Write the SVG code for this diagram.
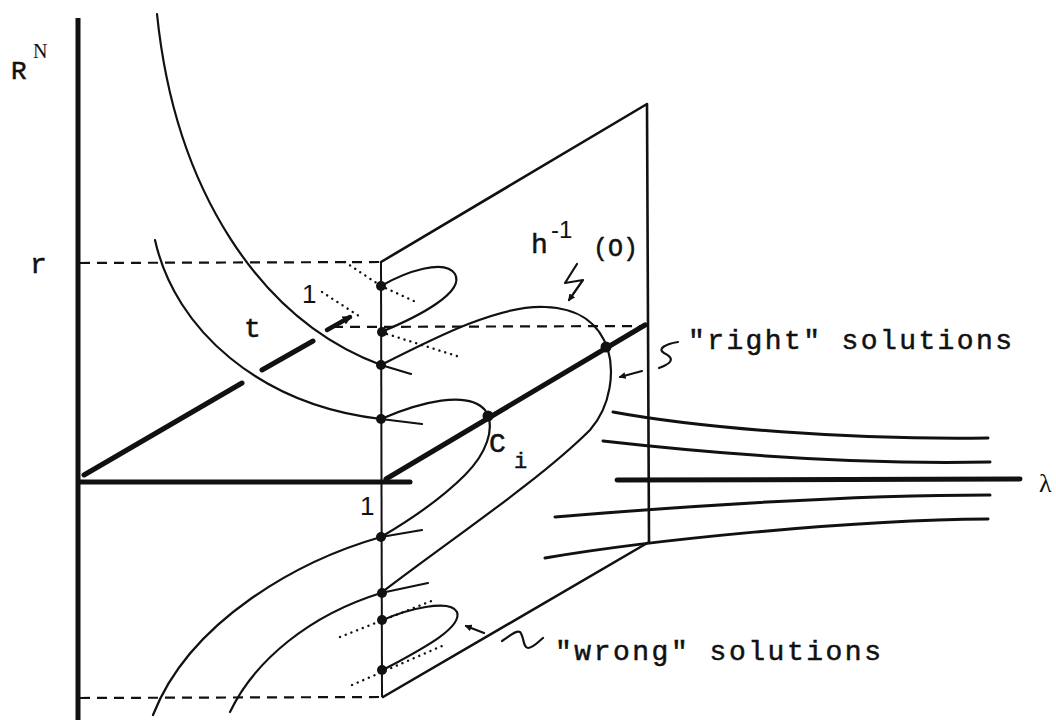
<svg xmlns="http://www.w3.org/2000/svg" width="1056" height="720" viewBox="0 0 1056 720">
<style>
.thin{fill:none;stroke:#111;stroke-width:2.2;stroke-linecap:round;stroke-linejoin:round}
.edge{fill:none;stroke:#111;stroke-width:2.6;stroke-linecap:round;stroke-linejoin:round}
.thick{fill:none;stroke:#111;stroke-width:5;stroke-linecap:round}
.flow{fill:none;stroke:#111;stroke-width:3;stroke-linecap:round}
.dash{fill:none;stroke:#111;stroke-width:2.2;stroke-dasharray:10 7}
.dot{fill:none;stroke:#111;stroke-width:2.4;stroke-linecap:round;stroke-dasharray:0.1 6}
.pt{fill:#111}
.mono{font-family:"Liberation Mono","Courier New",monospace;fill:#111;stroke:#111;stroke-width:0.5}
.sans{font-family:"Liberation Sans",Arial,sans-serif;fill:#111}
.serif{font-family:"Liberation Serif","DejaVu Serif",serif;fill:#111}
</style>
<defs>
<marker id="ah" viewBox="0 0 10 10" refX="8" refY="5" markerWidth="7" markerHeight="7" orient="auto" markerUnits="userSpaceOnUse">
<path d="M0,0 L10,5 L0,10 z" fill="#111"/>
</marker>
<marker id="ahs" viewBox="0 0 10 10" refX="8" refY="5" markerWidth="9" markerHeight="9" orient="auto" markerUnits="userSpaceOnUse">
<path d="M0,0 L10,5 L0,10 z" fill="#111"/>
</marker>
</defs>
<rect width="1056" height="720" fill="#fff"/>

<g id="axes">
<line x1="78" y1="18" x2="78" y2="720" stroke="#111" stroke-width="5"/>
<line class="thick" x1="80" y1="482" x2="410" y2="482"/>
<line class="thick" x1="617" y1="480" x2="1020" y2="479"/>
<line class="thick" x1="84" y1="475" x2="242" y2="383"/>
<line class="thick" x1="262" y1="370" x2="313" y2="341"/>
<line x1="327" y1="330" x2="350" y2="317" stroke="#111" stroke-width="4.5" stroke-linecap="round" marker-end="url(#ahs)"/>
</g>

<g id="plane">
<polyline class="edge" points="381,262 647,104 649,542 383,697"/>
<line x1="381" y1="262" x2="382" y2="697" stroke="#111" stroke-width="2"/>
<line class="thick" x1="386" y1="479" x2="645" y2="325"/>
</g>

<g id="guides">
<line class="dash" x1="80" y1="263" x2="381" y2="262"/>
<line class="dash" x1="80" y1="698" x2="382" y2="697"/>
<line class="dash" x1="333" y1="327" x2="647" y2="326"/>
<polyline class="dot" points="345,262 381,286 416,302"/>
<polyline class="dot" points="322,292 362,318"/>
<polyline class="dot" points="387,334 460,357"/>
<polyline class="dot" points="340,637 434,600"/>
<polyline class="dot" points="352,685 442,646"/>
</g>

<g id="curves">
<path class="thin" d="M157,14 C175,190 260,320 381,365 L411,374"/>
<path class="thin" d="M155,240 C175,330 260,405 381,419 L422,424"/>
<path class="thin" d="M381,286 C405,272 445,258 455,274 C465,292 420,316 381,332"/>
<path class="thin" d="M381,593 C450,540 540,480 590,430 C612,405 614,370 608,350 C600,325 580,308 545,307 C500,305 440,335 381,365"/>
<path class="thin" d="M230,712 C255,660 310,615 381,593 L428,583"/>
<path class="thin" d="M381,419 C420,402 468,390 485,410 C497,428 485,455 465,475 C440,500 410,520 381,537"/>
<path class="thin" d="M153,715 C190,620 300,560 381,537 L422,530"/>
<path class="thin" d="M383,620 C405,610 450,598 457,612 C463,628 420,650 383,670"/>
</g>

<g id="flows">
<path class="flow" d="M613,412 C700,428 850,440 988,438"/>
<path class="flow" d="M603,441 C700,452 850,465 990,462"/>
<path class="flow" d="M555,517 C700,505 850,495 990,495"/>
<path class="flow" d="M545,558 C650,540 850,520 988,519"/>
</g>

<g id="points">
<circle class="pt" cx="381" cy="286" r="5"/>
<circle class="pt" cx="382" cy="332" r="5"/>
<circle class="pt" cx="381" cy="365" r="5"/>
<circle class="pt" cx="381" cy="419" r="5"/>
<circle class="pt" cx="381" cy="537" r="5"/>
<circle class="pt" cx="382" cy="593" r="5"/>
<circle class="pt" cx="382" cy="620" r="5"/>
<circle class="pt" cx="382" cy="670" r="5"/>
<circle class="pt" cx="488" cy="416" r="5.5"/>
<circle class="pt" cx="606" cy="347" r="5.5"/>
</g>

<g id="annotations">
<path class="thin" d="M577,264 L565,283 L583,280 L569,300" marker-end="url(#ah)"/>
<line class="thin" x1="642" y1="371" x2="620" y2="377" marker-end="url(#ah)"/>
<path class="thin" d="M678,342 C665,344 657,349 664,353 C672,357 676,362 659,368"/>
<line class="thin" x1="484" y1="633" x2="466" y2="626" marker-end="url(#ah)"/>
<path class="thin" d="M502,641 C510,636 516,630 520,632 C524,636 523,648 528,648 C533,648 538,642 543,638"/>
</g>

<g id="labels">
<text class="mono" x="11" y="79" font-size="26">R</text>
<text class="serif" x="33" y="58" font-size="20">N</text>
<text class="mono" x="30" y="273" font-size="28">r</text>
<text class="mono" x="244" y="337" font-size="28">t</text>
<text class="sans" x="302" y="303" font-size="26">1</text>
<text class="sans" x="360" y="515" font-size="26">1</text>
<text class="mono" x="531" y="253" font-size="28">h</text>
<text class="sans" x="551" y="238" font-size="24">-1</text>
<text class="mono" x="593" y="256" font-size="25">(O)</text>
<text class="mono" x="489" y="452" font-size="28">C</text>
<text class="mono" x="514" y="468" font-size="22">i</text>
<text class="mono" x="688" y="349" font-size="28" textLength="324">"right" solutions</text>
<text class="mono" x="555" y="660" font-size="28" textLength="326">"wrong" solutions</text>
<text class="serif" x="1039" y="492" font-size="26">λ</text>
</g>
</svg>
